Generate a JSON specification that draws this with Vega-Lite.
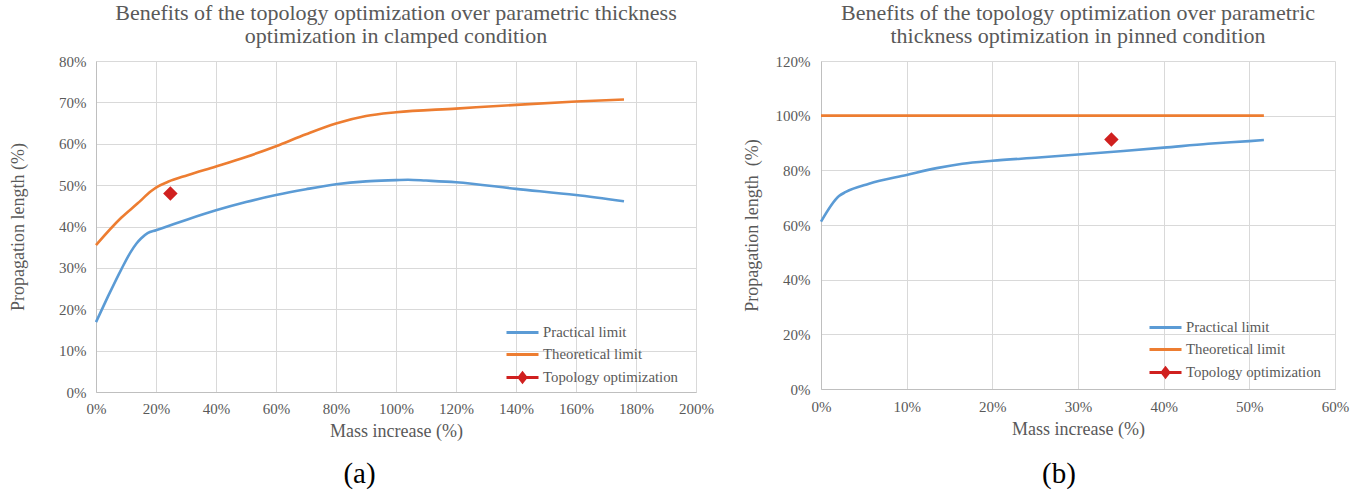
{
  "$schema": "https://vega.github.io/schema/vega-lite/v6.json",
  "background": "white",
  "padding": {"left": 9, "right": 5, "top": 2, "bottom": 2},
  "spacing": 29,
  "datasets": {
    "clamped": [
      {"series": "Practical limit", "mass": 0, "length": 16.9},
      {"series": "Practical limit", "mass": 4, "length": 23.1},
      {"series": "Practical limit", "mass": 8.4, "length": 29.6},
      {"series": "Practical limit", "mass": 11.7, "length": 34},
      {"series": "Practical limit", "mass": 13.5, "length": 35.9},
      {"series": "Practical limit", "mass": 15, "length": 37.1},
      {"series": "Practical limit", "mass": 17.2, "length": 38.4},
      {"series": "Practical limit", "mass": 20, "length": 39.1},
      {"series": "Practical limit", "mass": 26, "length": 40.6},
      {"series": "Practical limit", "mass": 30.5, "length": 41.7},
      {"series": "Practical limit", "mass": 40, "length": 43.9},
      {"series": "Practical limit", "mass": 50, "length": 45.9},
      {"series": "Practical limit", "mass": 60, "length": 47.6},
      {"series": "Practical limit", "mass": 70, "length": 49},
      {"series": "Practical limit", "mass": 80, "length": 50.2},
      {"series": "Practical limit", "mass": 90, "length": 50.9},
      {"series": "Practical limit", "mass": 100, "length": 51.2},
      {"series": "Practical limit", "mass": 104, "length": 51.3},
      {"series": "Practical limit", "mass": 110, "length": 51.1},
      {"series": "Practical limit", "mass": 120, "length": 50.7},
      {"series": "Practical limit", "mass": 140, "length": 49.1},
      {"series": "Practical limit", "mass": 160, "length": 47.6},
      {"series": "Practical limit", "mass": 176, "length": 46.1},
      {"series": "Theoretical limit", "mass": 0, "length": 35.5},
      {"series": "Theoretical limit", "mass": 8.4, "length": 42.1},
      {"series": "Theoretical limit", "mass": 13.9, "length": 45.6},
      {"series": "Theoretical limit", "mass": 18.3, "length": 48.5},
      {"series": "Theoretical limit", "mass": 20, "length": 49.4},
      {"series": "Theoretical limit", "mass": 24, "length": 50.8},
      {"series": "Theoretical limit", "mass": 30.5, "length": 52.4},
      {"series": "Theoretical limit", "mass": 40, "length": 54.5},
      {"series": "Theoretical limit", "mass": 50, "length": 56.8},
      {"series": "Theoretical limit", "mass": 60, "length": 59.4},
      {"series": "Theoretical limit", "mass": 70, "length": 62.3},
      {"series": "Theoretical limit", "mass": 80, "length": 64.9},
      {"series": "Theoretical limit", "mass": 90, "length": 66.7},
      {"series": "Theoretical limit", "mass": 100, "length": 67.6},
      {"series": "Theoretical limit", "mass": 120, "length": 68.5},
      {"series": "Theoretical limit", "mass": 140, "length": 69.4},
      {"series": "Theoretical limit", "mass": 160, "length": 70.2},
      {"series": "Theoretical limit", "mass": 176, "length": 70.7},
      {"series": "Topology optimization", "mass": 24.8, "length": 48}
    ],
    "pinned": [
      {"series": "Practical limit", "mass": 0, "length": 61.2},
      {"series": "Practical limit", "mass": 2.1, "length": 70.6},
      {"series": "Practical limit", "mass": 2.9, "length": 72.1},
      {"series": "Practical limit", "mass": 5.6, "length": 75.1},
      {"series": "Practical limit", "mass": 10, "length": 78.3},
      {"series": "Practical limit", "mass": 13.5, "length": 80.8},
      {"series": "Practical limit", "mass": 16.5, "length": 82.4},
      {"series": "Practical limit", "mass": 20, "length": 83.5},
      {"series": "Practical limit", "mass": 25.4, "length": 84.7},
      {"series": "Practical limit", "mass": 30, "length": 85.8},
      {"series": "Practical limit", "mass": 35.3, "length": 87.1},
      {"series": "Practical limit", "mass": 40, "length": 88.3},
      {"series": "Practical limit", "mass": 45.2, "length": 89.7},
      {"series": "Practical limit", "mass": 50, "length": 90.7},
      {"series": "Practical limit", "mass": 51.7, "length": 91.1},
      {"series": "Theoretical limit", "mass": 0, "length": 100},
      {"series": "Theoretical limit", "mass": 51.7, "length": 100},
      {"series": "Topology optimization", "mass": 33.9, "length": 91.3}
    ]
  },
  "resolve": {"scale": {"color": "independent"}, "legend": {"color": "independent"}},
  "hconcat": [
    {
      "title": {"text": "(a)", "orient": "bottom", "fontSize": 29, "offset": 20, "dx": -2, "color": "#000000", "font": "Liberation Serif", "fontWeight": "normal"},
      "resolve": {"scale": {"color": "independent"}, "legend": {"color": "independent"}},
      "vconcat": [
        {
          "width": 600,
          "height": 331,
          "title": {"text": ["Benefits of the topology optimization over parametric thickness", "optimization in clamped condition"]},
          "data": {"name": "clamped"},
          "encoding": {
            "x": {"field": "mass", "type": "quantitative", "scale": {"domain": [0, 200], "nice": false},
              "axis": {"title": "Mass increase (%)", "values": [0, 20, 40, 60, 80, 100, 120, 140, 160, 180, 200], "labelExpr": "datum.value + '%'", "labelPadding": 9, "titlePadding": 6}},
            "y": {"field": "length", "type": "quantitative", "scale": {"domain": [0, 80], "nice": false},
              "axis": {"title": "Propagation length (%)", "values": [0, 10, 20, 30, 40, 50, 60, 70, 80], "labelExpr": "datum.value + '%'", "labelPadding": 10, "titlePadding": 31}},
            "color": {"field": "series", "type": "nominal",
              "scale": {"domain": ["Practical limit", "Theoretical limit", "Topology optimization"], "range": ["#5B9BD5", "#ED7D31", "#D0201F"]},
              "legend": {"title": null, "orient": "none", "legendX": 417, "legendY": 262, "symbolType": "stroke", "symbolSize": 256, "symbolStrokeWidth": 3, "rowPadding": 5, "labelOffset": 11,
                "encode": {"symbols": {"update": {"shape": {"signal": "datum.value === 'Topology optimization' ? 'M-2,0H2M0,-0.55L0.42,0L0,0.55L-0.42,0Z' : 'M-2,0H2'"}, "fill": {"value": "#D0201F"}, "opacity": {"value": 1}}}}}}
          },
          "layer": [
            {"transform": [{"filter": "datum.series !== 'Topology optimization'"}],
             "mark": {"type": "line", "interpolate": "monotone", "strokeWidth": 2.6}},
            {"transform": [{"filter": "datum.series === 'Topology optimization'"}],
             "mark": {"type": "point", "shape": "diamond", "filled": true, "size": 210, "opacity": 1}}
          ]
        }
      ]
    },
    {
      "title": {"text": "(b)", "orient": "bottom", "fontSize": 29, "offset": 22, "dx": 13, "color": "#000000", "font": "Liberation Serif", "fontWeight": "normal"},
      "resolve": {"scale": {"color": "independent"}, "legend": {"color": "independent"}},
      "vconcat": [
        {
          "width": 514,
          "height": 328,
          "title": {"text": ["Benefits of the topology optimization over parametric", "thickness optimization in pinned condition"]},
          "data": {"name": "pinned"},
          "encoding": {
            "x": {"field": "mass", "type": "quantitative", "scale": {"domain": [0, 60], "nice": false},
              "axis": {"title": "Mass increase (%)", "values": [0, 10, 20, 30, 40, 50, 60], "labelExpr": "datum.value + '%'", "labelPadding": 10, "titlePadding": 6}},
            "y": {"field": "length", "type": "quantitative", "scale": {"domain": [0, 120], "nice": false},
              "axis": {"title": "Propagation length\u00a0 (%)", "values": [0, 20, 40, 60, 80, 100, 120], "labelExpr": "datum.value + '%'", "labelPadding": 11, "titlePadding": 14}},
            "color": {"field": "series", "type": "nominal",
              "scale": {"domain": ["Practical limit", "Theoretical limit", "Topology optimization"], "range": ["#5B9BD5", "#ED7D31", "#D0201F"]},
              "legend": {"title": null, "orient": "none", "legendX": 335, "legendY": 257, "symbolType": "stroke", "symbolSize": 256, "symbolStrokeWidth": 3, "rowPadding": 5, "labelOffset": 11,
                "encode": {"symbols": {"update": {"shape": {"signal": "datum.value === 'Topology optimization' ? 'M-2,0H2M0,-0.55L0.42,0L0,0.55L-0.42,0Z' : 'M-2,0H2'"}, "fill": {"value": "#D0201F"}, "opacity": {"value": 1}}}}}}
          },
          "layer": [
            {"transform": [{"filter": "datum.series !== 'Topology optimization'"}],
             "mark": {"type": "line", "interpolate": "monotone", "strokeWidth": 2.6}},
            {"transform": [{"filter": "datum.series === 'Topology optimization'"}],
             "mark": {"type": "point", "shape": "diamond", "filled": true, "size": 210, "opacity": 1}}
          ]
        }
      ]
    }
  ],
  "config": {
    "font": "Liberation Serif",
    "view": {"stroke": null},
    "title": {"font": "Liberation Serif", "fontSize": 22, "fontWeight": "normal", "color": "#595959", "lineHeight": 23, "offset": 6, "anchor": "middle"},
    "axis": {"labelFont": "Liberation Serif", "titleFont": "Liberation Serif", "labelFontSize": 15, "titleFontSize": 18, "titleFontWeight": "normal", "labelFlush": false,
      "labelColor": "#595959", "titleColor": "#595959", "domainColor": "#BFBFBF", "gridColor": "#D9D9D9", "gridWidth": 1, "ticks": false, "grid": true},
    "legend": {"labelFont": "Liberation Serif", "labelFontSize": 14.8, "labelColor": "#595959"}
  }
}
